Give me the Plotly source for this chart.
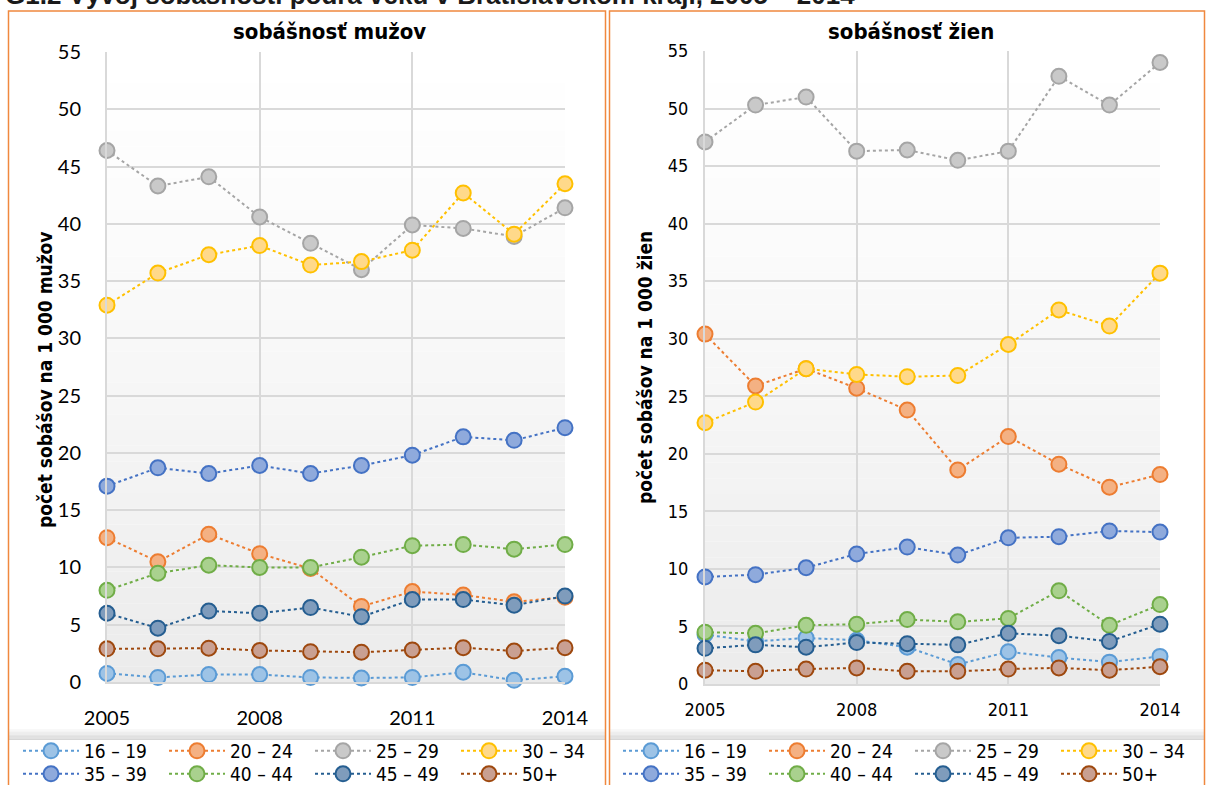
import plotly.graph_objects as go

# ---------------- data ----------------
years = list(range(2005, 2015))
x_tick_labels = [2005, 2008, 2011, 2014]
y_tick_values = list(range(0, 56, 5))
age_groups = ["16 – 19", "20 – 24", "25 – 29", "30 – 34",
              "35 – 39", "40 – 44", "45 – 49", "50+"]

men_16_19 = [0.75, 0.4, 0.65, 0.65, 0.4, 0.35, 0.4, 0.85, 0.15, 0.5]
men_20_24 = [12.6, 10.5, 12.9, 11.2, 9.9, 6.6, 7.9, 7.6, 7.0, 7.4]
men_25_29 = [46.4, 43.3, 44.1, 40.6, 38.3, 36.0, 39.9, 39.6, 38.9, 41.4]
men_30_34 = [32.9, 35.7, 37.3, 38.1, 36.4, 36.7, 37.7, 42.7, 39.1, 43.5]
men_35_39 = [17.1, 18.7, 18.2, 18.9, 18.2, 18.9, 19.8, 21.4, 21.1, 22.2]
men_40_44 = [8.0, 9.5, 10.2, 10.0, 10.0, 10.9, 11.9, 12.0, 11.6, 12.0]
men_45_49 = [6.0, 4.7, 6.2, 6.0, 6.5, 5.7, 7.2, 7.2, 6.7, 7.5]
men_50_plus = [2.9, 2.9, 2.95, 2.75, 2.65, 2.6, 2.8, 3.0, 2.7, 3.0]

women_16_19 = [4.3, 3.7, 4.0, 3.8, 3.2, 1.7, 2.8, 2.3, 1.9, 2.4]
women_20_24 = [30.4, 25.9, 27.4, 25.7, 23.8, 18.6, 21.5, 19.1, 17.1, 18.2]
women_25_29 = [47.1, 50.3, 51.0, 46.3, 46.4, 45.5, 46.3, 52.8, 50.3, 54.0]
women_30_34 = [22.7, 24.5, 27.4, 26.9, 26.7, 26.8, 29.5, 32.5, 31.1, 35.7]
women_35_39 = [9.3, 9.5, 10.1, 11.3, 11.9, 11.2, 12.7, 12.8, 13.3, 13.2]
women_40_44 = [4.5, 4.4, 5.1, 5.2, 5.6, 5.4, 5.7, 8.1, 5.1, 6.9]
women_45_49 = [3.1, 3.4, 3.2, 3.6, 3.5, 3.4, 4.4, 4.2, 3.7, 5.2]
women_50_plus = [1.2, 1.1, 1.3, 1.4, 1.1, 1.1, 1.3, 1.4, 1.2, 1.5]

men_series = [men_16_19, men_20_24, men_25_29, men_30_34,
              men_35_39, men_40_44, men_45_49, men_50_plus]
women_series = [women_16_19, women_20_24, women_25_29, women_30_34,
                women_35_39, women_40_44, women_45_49, women_50_plus]

title_text = "G1.2 Vývoj sobášnosti podľa veku v Bratislavskom kraji, 2005 – 2014"
men_title = "sobášnosť mužov"
women_title = "sobášnosť žien"
men_ytitle = "počet sobášov na 1 000 mužov"
women_ytitle = "počet sobášov na 1 000 žien"

# ---------------- styles ----------------
line_colors = ["#5B9BD5", "#ED7D31", "#A5A5A5", "#FFC000",
               "#4472C4", "#70AD47", "#255E91", "#9E480E"]
fill_colors = ["#9DC3E6", "#F4B183", "#C9C9C9", "#FFD98A",
               "#8FAADC", "#A9D18E", "#7F9CBC", "#C9A092"]

W, H = 1206, 785
def px(x):
    return x / W
def py(y):
    return 1 - y / H

NARROW = "Liberation Sans Narrow, Arial Narrow, DejaVu Sans Condensed, sans-serif"
CAL = "Lato, Carlito, Calibri, sans-serif"
GRID = "#d9d9d9"

fig = go.Figure()

for i, name in enumerate(age_groups):
    fig.add_trace(go.Scatter(
        x=years, y=men_series[i], name=name, mode="lines+markers",
        line=dict(color=line_colors[i], width=2, dash="dot"),
        marker=dict(size=15, color=fill_colors[i],
                    line=dict(color=line_colors[i], width=2)),
        xaxis="x", yaxis="y", cliponaxis=False,
        legend="legend" if i < 4 else "legend2", hoverinfo="skip"))
for i, name in enumerate(age_groups):
    fig.add_trace(go.Scatter(
        x=years, y=women_series[i], name=name, mode="lines+markers",
        line=dict(color=line_colors[i], width=2, dash="dot"),
        marker=dict(size=15, color=fill_colors[i],
                    line=dict(color=line_colors[i], width=2)),
        xaxis="x2", yaxis="y2", cliponaxis=False,
        legend="legend3" if i < 4 else "legend4", hoverinfo="skip"))

shapes = []
# plot area gradients
def add_gradient(x0, x1, ytop, ybot, n=40):
    for k in range(n):
        t0 = k / n
        t1 = (k + 1) / n
        t = (t0 + t1) / 2
        g = int(round(255 - 20 * (t ** 1.3)))
        shapes.append(dict(type="rect", xref="paper", yref="paper",
                           x0=px(x0), x1=px(x1),
                           y0=py(ytop + (ybot - ytop) * t1),
                           y1=py(ytop + (ybot - ytop) * t0),
                           fillcolor=f"rgb({g},{g},{g})",
                           line=dict(width=0), layer="below"))
add_gradient(107, 565, 52, 682)
add_gradient(705, 1160, 51, 684)

# legend separator shadow
def add_shadow(x0, x1, ytop=729, ybot=740, n=8):
    for k in range(n):
        t = (k + 0.5) / n
        g = int(round(250 - 38 * t))
        shapes.append(dict(type="rect", xref="paper", yref="paper",
                           x0=px(x0), x1=px(x1),
                           y0=py(ytop + (ybot - ytop) * (k + 1) / n),
                           y1=py(ytop + (ybot - ytop) * k / n),
                           fillcolor=f"rgb({g},{g},{g})",
                           line=dict(width=0), layer="below"))
add_shadow(9, 605)
add_shadow(610, 1204)

# orange frames
for (a, b) in [(8.5, 605.5), (609.5, 1204.5)]:
    shapes.append(dict(type="rect", xref="paper", yref="paper",
                       x0=px(a), x1=px(b), y0=py(800), y1=py(11),
                       line=dict(color="#F0883E", width=1.5),
                       fillcolor="rgba(0,0,0,0)", layer="above"))

annotations = [
    dict(text=f"<b>{title_text}</b>", x=px(3), y=py(-4.5), xref="paper", yref="paper",
         xanchor="left", yanchor="middle", showarrow=False,
         font=dict(family="Liberation Sans, Arial, sans-serif", size=26, color="#1a1a1a")),
    dict(text=f"<b>{men_title}</b>", x=px(330), y=py(32), xref="paper", yref="paper",
         xanchor="center", yanchor="middle", showarrow=False,
         font=dict(family=NARROW, size=22, color="#000")),
    dict(text=f"<b>{women_title}</b>", x=px(911), y=py(32), xref="paper", yref="paper",
         xanchor="center", yanchor="middle", showarrow=False,
         font=dict(family=NARROW, size=22, color="#000")),
    dict(text=f"<b>{men_ytitle}</b>", x=px(45), y=py(380), xref="paper", yref="paper",
         xanchor="center", yanchor="middle", showarrow=False, textangle=-90,
         font=dict(family=NARROW, size=19, color="#000")),
    dict(text=f"<b>{women_ytitle}</b>", x=px(645), y=py(367), xref="paper", yref="paper",
         xanchor="center", yanchor="middle", showarrow=False, textangle=-90,
         font=dict(family=NARROW, size=19, color="#000")),
]

def yaxis_cfg(dom, font, standoff):
    return dict(domain=dom, range=[0, 55], tickvals=y_tick_values,
                showgrid=True, gridcolor=GRID, gridwidth=2, zeroline=False,
                showline=True, linecolor=GRID, linewidth=2,
                ticks="outside", ticklen=standoff, tickcolor="rgba(0,0,0,0)",
                tickfont=font, fixedrange=True, automargin=False)

def xaxis_cfg(dom, font, standoff):
    return dict(domain=dom, range=[2005, 2014], tickvals=x_tick_labels,
                showgrid=True, gridcolor=GRID, gridwidth=2, zeroline=False,
                showline=True, linecolor=GRID, linewidth=2,
                ticks="outside", ticklen=standoff, tickcolor="rgba(0,0,0,0)",
                tickfont=font, fixedrange=True, automargin=False)

left_font = dict(family=CAL, size=20, color="#000")
right_font = dict(family=NARROW, size=18, color="#000")

def legend_cfg(xpix, ypix):
    return dict(orientation="h", x=px(xpix), y=py(ypix), xanchor="left",
                yanchor="middle", bgcolor="rgba(0,0,0,0)", borderwidth=0,
                font=dict(family=NARROW, size=19, color="#000"),
                itemwidth=56, entrywidth=75, entrywidthmode="pixels",
                itemclick=False, itemdoubleclick=False)

fig.update_layout(
    width=W, height=H,
    margin=dict(l=0, r=0, t=0, b=0, pad=0, autoexpand=False),
    paper_bgcolor="white", plot_bgcolor="rgba(0,0,0,0)",
    showlegend=True,
    xaxis=dict(anchor="y", **xaxis_cfg([px(107), px(565)], left_font, 17)),
    yaxis=dict(anchor="x", **yaxis_cfg([py(682), py(52)], left_font, 20)),
    xaxis2=dict(anchor="y2", **xaxis_cfg([px(705), px(1160)], right_font, 8)),
    yaxis2=dict(anchor="x2", **yaxis_cfg([py(684), py(51)], right_font, 11)),
    legend=legend_cfg(18, 751),
    legend2=legend_cfg(18, 774),
    legend3=legend_cfg(618, 751),
    legend4=legend_cfg(618, 774),
    shapes=shapes, annotations=annotations,
)

fig.write_html("out.html", config={"displayModeBar": False},
               post_script="document.body.style.margin='0';document.body.style.overflow='hidden';")
